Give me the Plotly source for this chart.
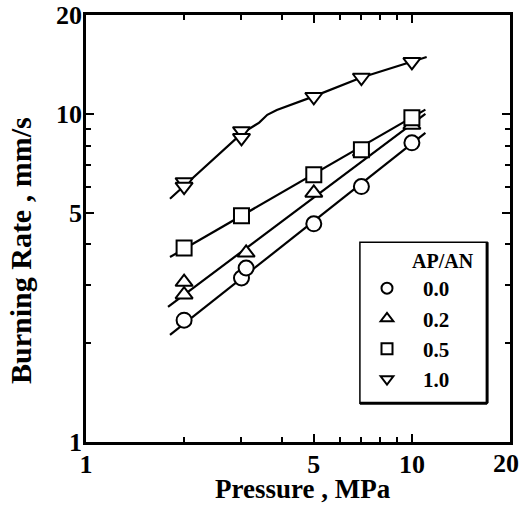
import plotly.graph_objects as go

# Measured burning rates (mm/s) vs pressure (MPa) for each AP/AN ratio
p_00 = [2.0, 3.0, 3.1, 5.0, 7.0, 10.0]
r_00 = [2.35, 3.16, 3.39, 4.62, 6.0, 8.16]

p_02 = [2.0, 2.0, 3.1, 5.0, 7.0, 10.0]
r_02 = [3.07, 2.81, 3.77, 5.74, 7.66, 9.25]

p_05 = [2.0, 3.0, 5.0, 7.0, 10.0]
r_05 = [3.90, 4.89, 6.52, 7.77, 9.72]

p_10 = [2.0, 2.0, 3.0, 3.0, 5.0, 7.0, 10.0]
r_10 = [6.2, 6.0, 8.87, 8.45, 11.27, 12.9, 14.4]

# Fitted curves drawn through each series
fit_p_00 = [1.81, 11.0]
fit_r_00 = [2.12, 8.75]
fit_p_02 = [1.785, 11.0]
fit_r_02 = [2.58, 10.0]
fit_p_05 = [1.81, 11.0]
fit_r_05 = [3.66, 10.3]
fit_p_10 = [1.81, 3.0, 3.4, 3.6, 3.85, 4.2, 5.0, 7.0, 10.0, 11.1]
fit_r_10 = [5.51, 8.7, 9.4, 9.93, 10.27, 10.6, 11.3, 12.9, 14.4, 14.9]

labels = ["0.0", "0.2", "0.5", "1.0"]
symbols = ["circle", "triangle-up", "square", "triangle-down"]

# Axis ticks
x_tickvals = [1, 5, 10]
x_ticktext = ["1", "5", "10"]
x_last_tick = 20
y_tickvals = [1, 5, 10, 20]
y_ticktext = ["1", "5", "10", "20"]
minor_vals = [2, 3, 4, 6, 7, 8, 9]

FONT = "Liberation Serif"

fig = go.Figure()

series = [
    (p_00, r_00, fit_p_00, fit_r_00),
    (p_02, r_02, fit_p_02, fit_r_02),
    (p_05, r_05, fit_p_05, fit_r_05),
    (p_10, r_10, fit_p_10, fit_r_10),
]

for (px, ry, fx, fy), sym in zip(series, symbols):
    fig.add_trace(go.Scatter(
        x=fx, y=fy, mode="lines",
        line=dict(color="black", width=2.2),
        showlegend=False, hoverinfo="skip",
    ))
    fig.add_trace(go.Scatter(
        x=px, y=ry, mode="markers",
        marker=dict(symbol=sym, size=15, color="white",
                    line=dict(color="black", width=2)),
        showlegend=False,
    ))

# Legend entries (smaller symbols than the plotted points)
for lab, sym in zip(labels, symbols):
    fig.add_trace(go.Scatter(
        x=[None], y=[None], mode="markers", name="<b>" + lab + "</b>",
        marker=dict(symbol=sym, size=11, color="white",
                    line=dict(color="black", width=2)),
    ))

axis_common = dict(
    type="log", automargin=False,
    showline=True, linecolor="black", linewidth=2.5, mirror="ticks",
    ticks="inside", ticklen=8, tickwidth=2, tickcolor="black",
    showgrid=False, zeroline=False,
    tickfont=dict(family=FONT, size=26, color="black", weight="bold"),
    minor=dict(tickmode="array", tickvals=minor_vals, ticks="inside",
               ticklen=5, tickwidth=1.5, tickcolor="black", showgrid=False),
    range=[0, 1.30103],
)

fig.update_xaxes(**axis_common, tickmode="array",
                 tickvals=x_tickvals + [x_last_tick],
                 ticktext=x_ticktext + [""], ticklabelstandoff=-3)
fig.update_yaxes(**axis_common, tickmode="array",
                 tickvals=y_tickvals, ticktext=y_ticktext,
                 ticklabelstandoff=-4)

# Rightmost x label sits against the figure edge
fig.add_annotation(text="<b>%d</b>" % x_last_tick, xref="paper", yref="paper",
                   x=1.026, y=(442 - 463) / 427, xanchor="right", yanchor="middle",
                   showarrow=False, font=dict(family=FONT, size=26, color="black"))

# Legend frame with heavier right/bottom edges
lx0, lx1, ly0, ly1 = 0.646, 0.946, 0.091, 0.468
fig.add_shape(type="rect", xref="paper", yref="paper",
              x0=lx0, x1=lx1, y0=ly0, y1=ly1,
              line=dict(color="black", width=1.5), fillcolor="white", layer="above")
fig.add_shape(type="line", xref="paper", yref="paper",
              x0=lx1, x1=lx1, y0=ly0, y1=ly1, line=dict(color="black", width=3))
fig.add_shape(type="line", xref="paper", yref="paper",
              x0=lx0, x1=lx1, y0=ly0, y1=ly0, line=dict(color="black", width=3))

fig.add_annotation(text="<b>AP/AN</b>", xref="paper", yref="paper",
                   x=(443 - 86) / 424, y=(442 - 261) / 427,
                   showarrow=False, xanchor="center", yanchor="middle",
                   font=dict(family=FONT, size=20, color="black"))

fig.add_annotation(text="<b>Pressure , MPa</b>", xref="paper", yref="paper",
                   x=(303 - 86) / 424, y=(442 - 506) / 427,
                   showarrow=False, xanchor="center", yanchor="bottom",
                   font=dict(family=FONT, size=27, color="black"))
fig.add_annotation(text="<b>Burning Rate , mm/s</b>", xref="paper", yref="paper",
                   x=(21 - 86) / 424, y=(442 - 251) / 427, textangle=-90,
                   showarrow=False, xanchor="center", yanchor="middle",
                   font=dict(family=FONT, size=30, color="black"))

fig.update_layout(
    template="none",
    width=521, height=507,
    margin=dict(l=86, r=11, t=15, b=65, autoexpand=False),
    paper_bgcolor="white", plot_bgcolor="white",
    font=dict(family=FONT, color="black"),
    legend=dict(
        x=(351 - 86) / 424, y=(442 - 268) / 427,
        xanchor="left", yanchor="top",
        bgcolor="rgba(0,0,0,0)", borderwidth=0,
        font=dict(family=FONT, size=21, color="black"),
        itemwidth=62, tracegroupgap=0,
    ),
)

fig.write_html("out.html")
